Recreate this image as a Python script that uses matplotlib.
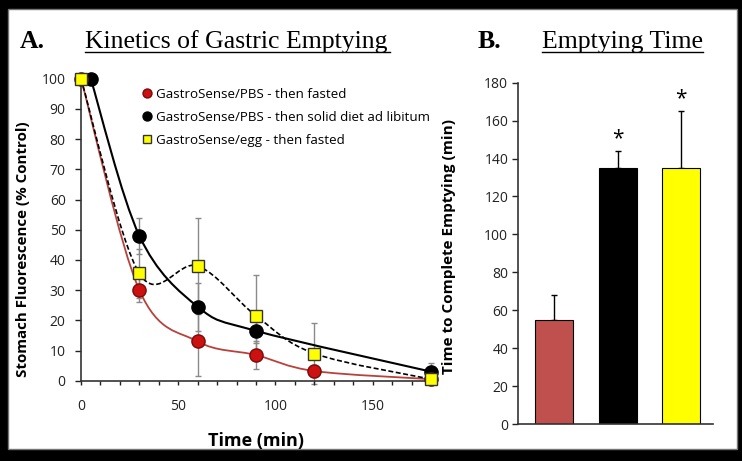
import matplotlib
matplotlib.use("Agg")
import matplotlib.pyplot as plt
import numpy as np
from matplotlib.path import Path
from matplotlib.patches import PathPatch, Rectangle
from matplotlib.lines import Line2D

plt.rcParams["font.family"] = ["Open Sans", "DejaVu Sans"]

# --- panel A data ---
fasted_t = [0, 30, 60, 90, 120, 180]
fasted_y = [100, 30, 13, 8.5, 3.2, 0.5]
fasted_err = [0, 4, 11.5, 4.5, 2, 0.5]

diet_t = [5, 30, 60, 90, 180]
diet_y = [100, 48, 24.5, 16.5, 3]
diet_err = [0, 6, 8, 4, 3]

egg_t = [0, 30, 60, 90, 120, 180]
egg_y = [100, 35.5, 38, 21.5, 9, 0.5]
egg_err = [0, 8, 16, 13.5, 10, 1]

legend_labels = ["GastroSense/PBS - then fasted",
                 "GastroSense/PBS - then solid diet ad libitum",
                 "GastroSense/egg - then fasted"]

# --- panel B data ---
groups = ["PBS fasted", "PBS diet", "egg fasted"]
empty_time = [55, 135, 135]
empty_err = [13, 9, 30]
signif = ["", "*", "*"]

RED_LINE = "#b8413b"
RED_FACE = "#cc1111"
RED_EDGE = "#7a0a0a"
BAR_RED = "#c0504d"
YELLOW = "#ffff00"
GRAY = "#8a8a8a"


def smooth_path(xs, ys):
    # excel style smoothed line (bezier through every point)
    pts = np.column_stack([xs, ys]).astype(float)
    n = len(pts)
    verts = [pts[0]]
    codes = [Path.MOVETO]
    for i in range(n - 1):
        p0 = pts[i - 1] if i > 0 else pts[i]
        p1 = pts[i]
        p2 = pts[i + 1]
        p3 = pts[i + 2] if i + 2 < n else pts[i + 1]
        verts += [p1 + (p2 - p0) / 6, p2 - (p3 - p1) / 6, p2]
        codes += [Path.CURVE4] * 3
    return Path(verts, codes)


fig = plt.figure(figsize=(7.42, 4.61), dpi=100)
fig.patch.set_facecolor("black")
fig.add_artist(Rectangle((8 / 742, 12 / 461), 729 / 742, 440 / 461,
                         transform=fig.transFigure, facecolor="white",
                         edgecolor="#777777", linewidth=1, zorder=-5))

# ---------------- panel A ----------------
ax = fig.add_axes([81 / 742, 80.3 / 461, 350 / 742, 302 / 461])
ax.patch.set_alpha(0)

ax.add_patch(PathPatch(smooth_path(fasted_t, fasted_y), facecolor="none",
                       edgecolor=RED_LINE, lw=1.3, zorder=2))
ax.add_patch(PathPatch(smooth_path(diet_t, diet_y), facecolor="none",
                       edgecolor="black", lw=1.5, zorder=2))
ax.add_patch(PathPatch(smooth_path(egg_t, egg_y), facecolor="none",
                       edgecolor="black", lw=1.2, linestyle=(0, (3, 1.5)), zorder=2))

for t, y, e in [(fasted_t, fasted_y, fasted_err), (diet_t, diet_y, diet_err),
                (egg_t, egg_y, egg_err)]:
    eb = ax.errorbar(t, y, yerr=e, fmt="none", ecolor=GRAY, elinewidth=1,
                     capsize=2, capthick=1, zorder=1)
    for art in eb.lines[1] + eb.lines[2]:
        art.set_clip_on(False)

h1, = ax.plot(fasted_t, fasted_y, "o", ms=9.5, mfc=RED_FACE, mec=RED_EDGE,
              mew=1, zorder=4, clip_on=False, label=legend_labels[0])
h2, = ax.plot(diet_t, diet_y, "o", ms=9.5, mfc="black", mec="black",
              zorder=3, clip_on=False, label=legend_labels[1])
h3, = ax.plot(egg_t, egg_y, "s", ms=9, mfc=YELLOW, mec="#333333",
              mew=1, zorder=5, clip_on=False, label=legend_labels[2])

ax.set_xlim(0, 180)
ax.set_ylim(0, 100)
ax.set_xticks([0, 50, 100, 150])
ax.set_xticks(range(0, 181, 10), minor=True)
ax.set_yticks(range(0, 101, 10))
ax.tick_params(axis="x", which="both", direction="out", length=3, width=1,
               pad=10, labelsize=10, colors="#222222")
ax.tick_params(axis="y", direction="out", length=4, width=1, pad=7,
               labelsize=10, colors="#222222")
for s in ["top", "right"]:
    ax.spines[s].set_visible(False)
for s in ["left", "bottom"]:
    ax.spines[s].set_color("#333333")
    ax.spines[s].set_linewidth(1.2)

ax.set_xlabel("Time (min)", fontsize=13, fontweight="bold")
ax.xaxis.set_label_coords(0.5, -0.17)
ax.set_ylabel("Stomach Fluorescence (% Control)", fontsize=10.9, fontweight="bold")
ax.yaxis.set_label_coords(-0.146, 0.434)

ax.legend(handles=[h1, h2, h3], loc="upper left", bbox_to_anchor=(0.176, 0.969),
          frameon=False, fontsize=9.6, markerscale=0.68, handlelength=0.6,
          handletextpad=0.4, labelspacing=0.73, borderaxespad=0, borderpad=0)

# ---------------- panel B ----------------
bx = fig.add_axes([518 / 742, 37 / 461, 195 / 742, 341.3 / 461])
bx.patch.set_alpha(0)
xpos = np.arange(len(groups))
bx.bar(xpos, empty_time, width=0.6, color=[BAR_RED, "black", YELLOW],
       edgecolor="black", linewidth=0.8, zorder=2)
bx.errorbar(xpos, empty_time, yerr=[np.zeros(len(empty_err)), empty_err],
            fmt="none", ecolor="black", elinewidth=1, capsize=2.5,
            capthick=1, zorder=1)
for x, v, e, s in zip(xpos, empty_time, empty_err, signif):
    if s:
        bx.text(x, v + e + 1, s, ha="center", va="bottom", fontsize=15)

bx.set_xlim(-0.57, 2.5)
bx.set_ylim(0, 180)
bx.set_yticks(range(0, 181, 20))
bx.set_xticks([])
bx.tick_params(axis="y", direction="out", length=4, width=1, pad=3,
               labelsize=10, colors="#222222")
for s in ["top", "right"]:
    bx.spines[s].set_visible(False)
for s in ["left", "bottom"]:
    bx.spines[s].set_color("#333333")
    bx.spines[s].set_linewidth(1.2)
bx.set_ylabel("Time to Complete Emptying (min)", fontsize=11, fontweight="bold")
bx.yaxis.set_label_coords(-0.318, 0.52)

# ---------------- panel titles ----------------
serif = "Liberation Serif"
fig.text(20 / 742, 1 - 48 / 461, "A.", family=serif, fontsize=18.5, fontweight="bold")
fig.text(85 / 742, 1 - 48 / 461, "Kinetics of Gastric Emptying", family=serif, fontsize=18.5)
fig.add_artist(Line2D([85 / 742, 390 / 742], [1 - 52 / 461] * 2, color="black",
                      lw=1, transform=fig.transFigure))
fig.text(478 / 742, 1 - 48 / 461, "B.", family=serif, fontsize=18.5, fontweight="bold")
fig.text(542 / 742, 1 - 48 / 461, "Emptying Time", family=serif, fontsize=18.5)
fig.add_artist(Line2D([542 / 742, 703 / 742], [1 - 52 / 461] * 2, color="black",
                      lw=1, transform=fig.transFigure))

fig.savefig("out.png", dpi=100, facecolor=fig.get_facecolor())
